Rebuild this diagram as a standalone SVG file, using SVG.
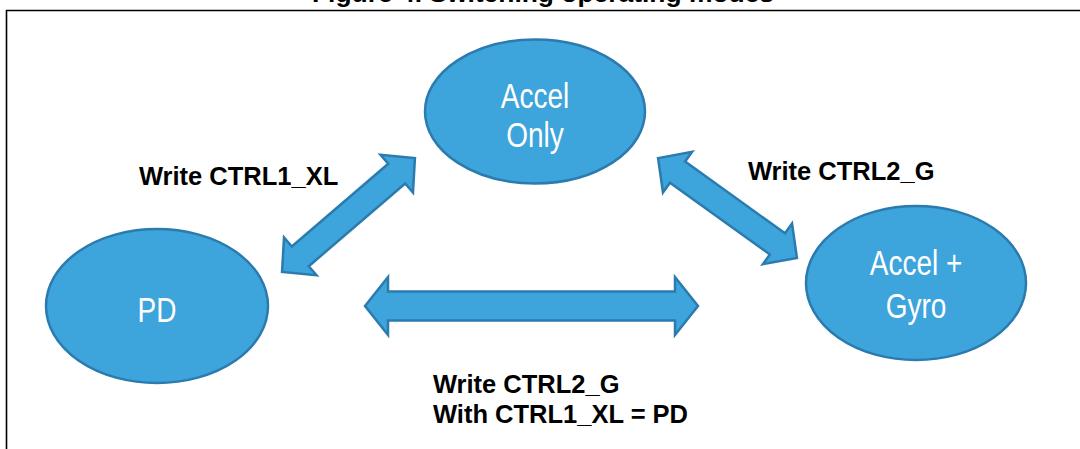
<svg xmlns="http://www.w3.org/2000/svg" width="1080" height="449" viewBox="0 0 1080 449">
  <style>
    .node { fill: #3DA4DC; stroke: #2B7BAE; stroke-width: 2.5; }
    .ntext { fill: #FFFFFF; font-family: "Liberation Sans", Arial, sans-serif; font-size: 35px; text-anchor: middle; }
    .arrow { fill: #3DA4DC; stroke: #2B7BAE; stroke-width: 2.5; stroke-linejoin: miter; }
    .label { fill: #000000; font-family: "Liberation Sans", Arial, sans-serif; font-size: 25.5px; font-weight: bold; }
    .title { fill: #000000; font-family: "Liberation Sans", Arial, sans-serif; font-size: 26px; font-weight: bold; text-anchor: middle; }
  </style>
  <rect x="0" y="0" width="1080" height="449" fill="#FFFFFF"/>
  <text class="title" x="543" y="2" textLength="462" lengthAdjust="spacingAndGlyphs">Figure 4. Switching operating modes</text>
  <path d="M6.5,449 V10.5 H1080" fill="none" stroke="#000000" stroke-width="1.6"/>

  <g id="connectors">
    <path class="arrow" transform="translate(531.5,306)" d="M-166.5,0 L-143.5,-29 L-143.5,-14.5 L143.5,-14.5 L143.5,-29 L166.5,0 L143.5,29 L143.5,14.5 L-143.5,14.5 L-143.5,29 Z"/>
    <path class="arrow" transform="translate(348.5,215) rotate(-40.6)" d="M-87.5,0 L-63.5,-25 L-63.5,-13 L63.5,-13 L63.5,-25 L87.5,0 L63.5,25 L63.5,13 L-63.5,13 L-63.5,25 Z"/>
    <path class="arrow" transform="translate(727.5,208) rotate(35.7)" d="M-85.5,0 L-61.5,-25 L-61.5,-13 L61.5,-13 L61.5,-25 L85.5,0 L61.5,25 L61.5,13 L-61.5,13 L-61.5,25 Z"/>
  </g>

  <g id="node-pd">
    <ellipse class="node" cx="157" cy="306" rx="111" ry="77"/>
    <text class="ntext" transform="translate(157,322) scale(0.8,1)" x="0" y="0">PD</text>
  </g>
  <g id="node-accel-only">
    <ellipse class="node" cx="535" cy="111.5" rx="110" ry="72"/>
    <text class="ntext" transform="translate(535,108) scale(0.8,1)" x="0" y="0">Accel</text>
    <text class="ntext" transform="translate(535,147) scale(0.8,1)" x="0" y="0">Only</text>
  </g>
  <g id="node-accel-gyro">
    <ellipse class="node" cx="916" cy="283" rx="110" ry="77"/>
    <text class="ntext" transform="translate(916,275) scale(0.8,1)" x="0" y="0">Accel +</text>
    <text class="ntext" transform="translate(916,318) scale(0.8,1)" x="0" y="0">Gyro</text>
  </g>

  <g id="labels">
    <text class="label" x="139" y="185">Write CTRL1_XL</text>
    <text class="label" x="748" y="180">Write CTRL2_G</text>
    <text class="label" x="433" y="393">Write CTRL2_G</text>
    <text class="label" x="433" y="423">With CTRL1_XL = PD</text>
  </g>
</svg>
